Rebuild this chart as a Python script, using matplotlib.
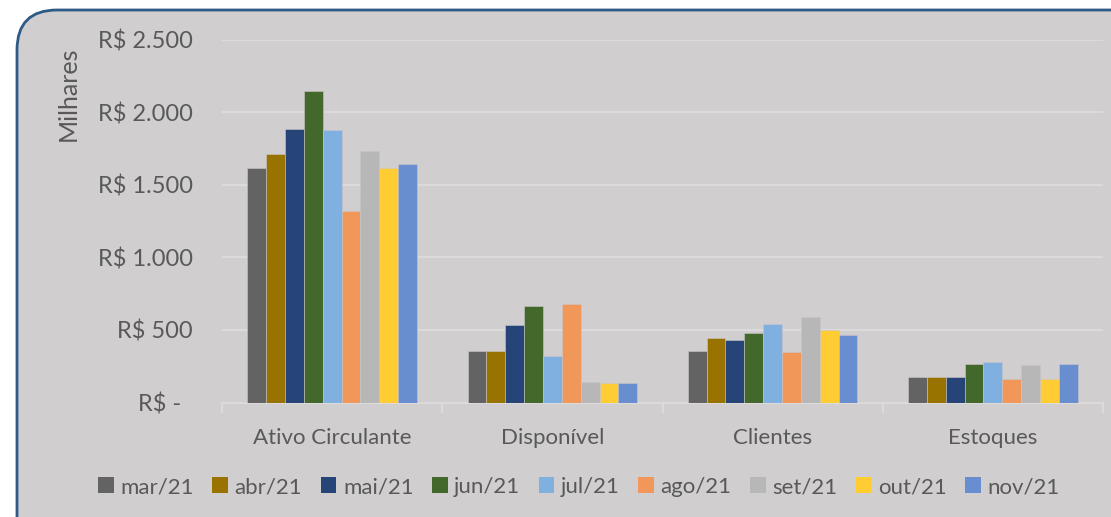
import numpy as np
import matplotlib
matplotlib.use("Agg")
import matplotlib.pyplot as plt
from matplotlib.patches import FancyBboxPatch, Patch
from matplotlib.transforms import IdentityTransform

plt.rcParams['font.family'] = ['Lato', 'DejaVu Sans']

# data (R$ milhares)
categories = ['Ativo Circulante', 'Disponível', 'Clientes', 'Estoques']
months = ['mar/21', 'abr/21', 'mai/21', 'jun/21', 'jul/21', 'ago/21', 'set/21', 'out/21', 'nov/21']
ativo = [1617, 1711, 1886, 2147, 1874, 1317, 1730, 1615, 1645]
disponivel = [352, 356, 531, 664, 320, 677, 139, 132, 132]
clientes = [354, 441, 430, 478, 540, 347, 590, 499, 462]
estoques = [173, 175, 173, 265, 279, 162, 260, 162, 262]
yticks = [0, 500, 1000, 1500, 2000, 2500]
ytick_labels = ['R$ -  ', 'R$ 500', 'R$ 1.000', 'R$ 1.500', 'R$ 2.000', 'R$ 2.500']

colors = ['#636363', '#997300', '#264478', '#43682B', '#7FB0DF',
          '#F1975A', '#B7B7B7', '#FFCD33', '#698ED0']
bg = '#D0CECF'
txt = '#595959'
grid = '#DCDADB'

values = np.array([ativo, disponivel, clientes, estoques])  # shape (cat, month)

fig = plt.figure(figsize=(11.11, 5.17), dpi=100, facecolor='white')

# rounded frame
frame = FancyBboxPatch((17, -40), 1140, 547, boxstyle='round,pad=0,rounding_size=40',
                       transform=IdentityTransform(), facecolor=bg,
                       edgecolor='#2E5A87', linewidth=2, zorder=-5)
fig.patches.append(frame)

ax = fig.add_axes([222 / 1111, 1 - 402.5 / 517, (1103 - 222) / 1111, (402.5 - 39.5) / 517])
ax.set_facecolor('none')

x = np.arange(len(categories))
w = 0.0856
for i, m in enumerate(months):
    ax.bar(x + (i - 4) * w, values[:, i], width=w, color=colors[i],
           edgecolor='#C8C6C7', linewidth=0.4, label=m, zorder=3)

ax.set_xlim(-0.5, 3.5)
ax.set_ylim(0, 2500)
ax.set_yticks(yticks)
ax.set_yticklabels(ytick_labels)
ax.yaxis.grid(True, color=grid, linewidth=1.5, zorder=0)
ax.set_axisbelow(True)

ax.set_xticks(x)
ax.set_xticklabels(categories)
ax.set_xticks(np.arange(-0.5, 4, 1), minor=True)
ax.tick_params(axis='x', which='major', length=0, pad=18, labelsize=16, labelcolor=txt)
ax.tick_params(axis='x', which='minor', length=7, width=1.5, color=grid)
ax.tick_params(axis='y', length=0, pad=21, labelsize=17, labelcolor=txt)

for s in ['top', 'right', 'left']:
    ax.spines[s].set_visible(False)
ax.spines['bottom'].set_color(grid)
ax.spines['bottom'].set_linewidth(1.5)

fig.text(68 / 1111, 1 - 94 / 517, 'Milhares', rotation=90, ha='center', va='center',
         fontsize=18, color=txt)

handles = [Patch(facecolor=c, edgecolor='none') for c in colors]
leg = fig.legend(handles, months, loc='center', bbox_to_anchor=(579 / 1111, 30 / 517),
                 ncol=9, frameon=False, fontsize=16, handlelength=0.7, handleheight=0.7,
                 handletextpad=0.3, columnspacing=0.83, labelcolor=txt)

fig.savefig('out.png', dpi=100, facecolor='white')
